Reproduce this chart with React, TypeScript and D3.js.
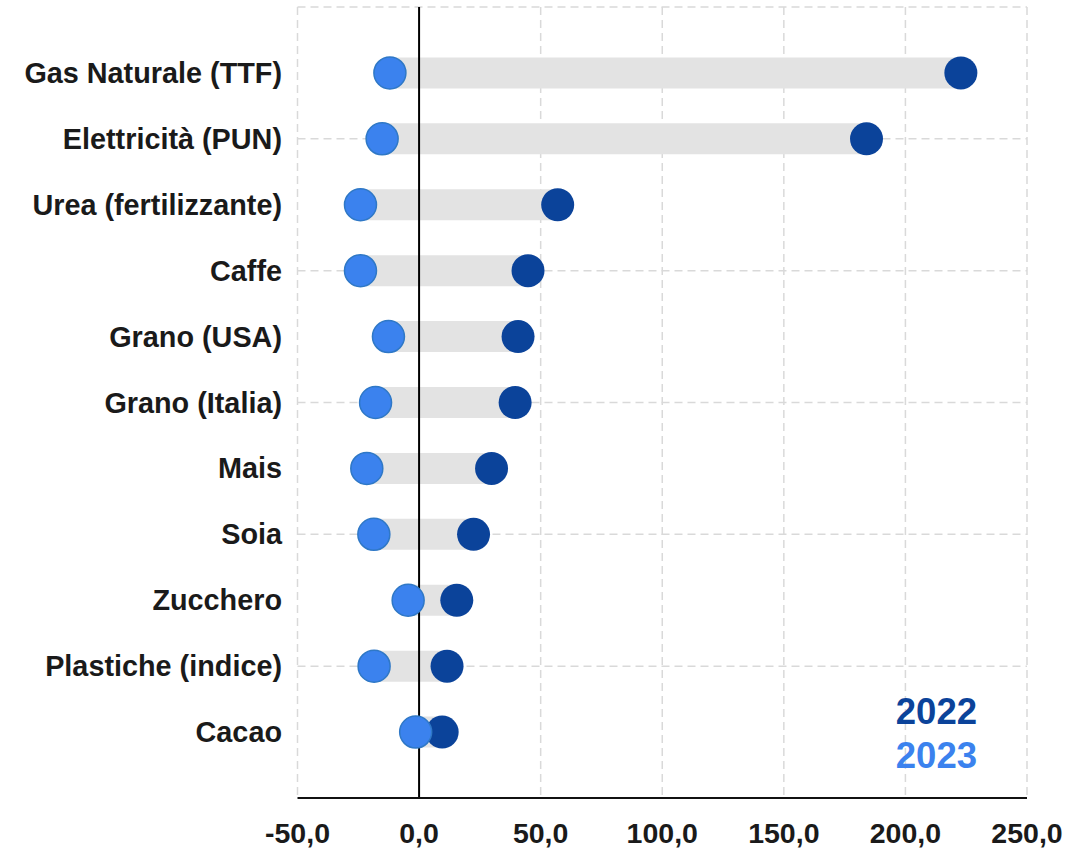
import React from "react";
import * as d3 from "d3";

const categories = [
  "Gas Naturale (TTF)",
  "Elettricità (PUN)",
  "Urea (fertilizzante)",
  "Caffe",
  "Grano (USA)",
  "Grano (Italia)",
  "Mais",
  "Soia",
  "Zucchero",
  "Plastiche (indice)",
  "Cacao",
];
const values2022 = [222.8, 184.0, 57.0, 44.8, 40.7, 39.5, 29.8, 22.4, 15.5, 11.5, 9.5];
const values2023 = [-12.0, -15.2, -24.1, -24.1, -12.6, -17.9, -21.5, -18.6, -4.5, -18.5, -1.4];
const xTicks = [-50, 0, 50, 100, 150, 200, 250];
const yGrid = [2, 4, 6, 8, 10, 12];
const seriesNames = ["2022", "2023"];

const C2022 = "#0b439a";
const C2023 = "#3b82ee";
const FONT = "'Liberation Sans', Arial, sans-serif";

export default function App() {
  const W = 1092, H = 849;
  const x = d3.scaleLinear().domain([-50, 250]).range([297.5, 1027]);
  const y = d3.scaleLinear().domain([0, 12]).range([798, 7]);
  const n = categories.length;
  const rowPos = (i: number) => y(n - i);
  const fmt = (v: number) => d3.format(".1f")(v).replace(".", ",").replace("\u2212", "-");

  return (
    <svg width={W} height={H} style={{ position: "absolute", left: 0, top: 0 }} fontFamily={FONT}>
      <rect x={0} y={0} width={W} height={H} fill="#fff" />
      {xTicks.filter((t) => t !== 0).map((t) => (
        <line key={"vx" + t} x1={x(t)} x2={x(t)} y1={y(12)} y2={y(0)} stroke="#d9d9d9" strokeWidth={1.5} strokeDasharray="8,5" />
      ))}
      {yGrid.map((t) => (
        <line key={"hy" + t} x1={x(-50)} x2={x(250)} y1={y(t)} y2={y(t)} stroke="#d9d9d9" strokeWidth={1.5} strokeDasharray="8,5" />
      ))}
      {categories.map((c, i) => (
        <line key={"bar" + c} x1={x(values2023[i])} x2={x(values2022[i])} y1={rowPos(i)} y2={rowPos(i)}
          stroke="#e3e3e3" strokeWidth={31} strokeLinecap="round" />
      ))}
      <line x1={x(0)} x2={x(0)} y1={y(12)} y2={y(0)} stroke="#000" strokeWidth={2} />
      <line x1={x(-50)} x2={x(250)} y1={y(0)} y2={y(0)} stroke="#111" strokeWidth={2} />
      {categories.map((c, i) => (
        <circle key={"d22" + c} cx={x(values2022[i])} cy={rowPos(i)} r={16.5} fill={C2022} />
      ))}
      {categories.map((c, i) => (
        <circle key={"d23" + c} cx={x(values2023[i])} cy={rowPos(i)} r={16} fill={C2023} stroke="#2f78c6" strokeWidth={1.5} />
      ))}
      {categories.map((c, i) => (
        <text key={"lab" + c} x={282} y={rowPos(i)} dy="0.35em" textAnchor="end" fontSize={28.8} fontWeight="bold" fill="#1a1a1a">
          {c}
        </text>
      ))}
      {xTicks.map((t) => (
        <text key={"xt" + t} x={x(t)} y={842.5} textAnchor="middle" fontSize={28.5} fontWeight="bold" fill="#1a1a1a">
          {fmt(t)}
        </text>
      ))}
      <text x={977} y={724} textAnchor="end" fontSize={36.5} fontWeight="bold" fill={C2022}>{seriesNames[0]}</text>
      <text x={977} y={768} textAnchor="end" fontSize={36.5} fontWeight="bold" fill={C2023}>{seriesNames[1]}</text>
    </svg>
  );
}
